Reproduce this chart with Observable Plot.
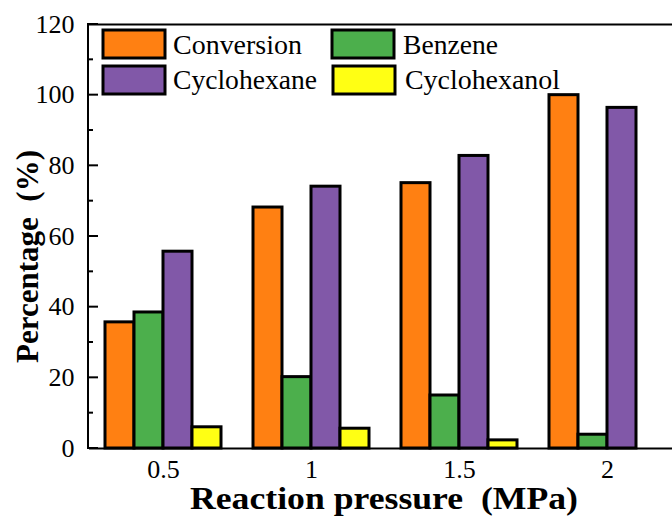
<!DOCTYPE html>
<html><head><meta charset="utf-8">
<script src="https://cdn.jsdelivr.net/npm/d3@7"></script>
<script src="https://cdn.jsdelivr.net/npm/@observablehq/plot@0.6"></script>
<style>
html,body{margin:0;padding:0;background:#fff;overflow:hidden;width:672px;height:518px;}
#chart{width:672px;height:518px;overflow:hidden;}
#chart svg{display:block;max-width:none !important;}
#chart svg text{font-family:'Liberation Serif','Times New Roman',serif;}
</style></head><body><div id="chart"></div>
<script>
// ---- data ----
const pressureLabels = ["0.5", "1", "1.5", "2"];
const seriesNames = ["Conversion", "Benzene", "Cyclohexane", "Cyclohexanol"];
const conversion   = [35.7, 68.2, 75.1, 100.0];
const benzene      = [38.5, 20.2, 15.0, 3.9];
const cyclohexane  = [55.7, 74.1, 82.8, 96.4];
const cyclohexanol = [6.0, 5.6, 2.3, 0];
const seriesColors = ["#FF8012", "#4CAF4C", "#8158A8", "#FFFF14"];
const yTicks = [0, 20, 40, 60, 80, 100, 120];
const yMinorTicks = [10, 30, 50, 70, 90, 110];
const xTitle = "Reaction pressure  (MPa)";
const yTitle = "Percentage  (%)";

const seriesValues = [conversion, benzene, cyclohexane, cyclohexanol];
const table = [];
pressureLabels.forEach((p, i) => {
  seriesNames.forEach((s, j) => table.push({pressure: p, series: s, value: seriesValues[j][i]}));
});

const font = "'Liberation Serif','Times New Roman',serif";
const marginLeft = 88;

const plot = Plot.plot({
  width: 682, height: 518,
  marginLeft, marginRight: 0, marginTop: 24, marginBottom: 70,
  style: {fontFamily: font, background: "#fff", color: "#000", overflow: "visible", maxWidth: "none"},
  fx: {domain: pressureLabels, padding: 0, label: null},
  x: {domain: seriesNames, paddingInner: 0, paddingOuter: 0.483, axis: null},
  y: {domain: [0, 120]},
  color: {domain: seriesNames, range: seriesColors},
  marks: [
    Plot.barY(table, {fx: "pressure", x: "series", y: "value", fill: "series",
      stroke: "#000", strokeWidth: 3, filter: d => d.value > 0}),
    Plot.ruleY([0, 120], {stroke: "#000", strokeWidth: 2}),
    Plot.axisY(yTicks, {anchor: "left", tickSize: 0, tickPadding: 15, fontSize: 26, fontFamily: font, label: null}),
    Plot.axisFx({anchor: "bottom", tickSize: 0, tickPadding: 11, fontSize: 26, fontFamily: font, label: null})
  ]
});
document.getElementById("chart").appendChild(plot);

// ---- left axis line and inward ticks (positions from Plot's y scale) ----
const svg = d3.select(plot);
const yScale = plot.scale("y");
const ax = svg.append("g").attr("stroke", "#000").attr("stroke-width", 2);
ax.append("line").attr("x1", marginLeft).attr("x2", marginLeft)
  .attr("y1", yScale.apply(0) + 1).attr("y2", yScale.apply(120) - 1);
yTicks.forEach(v => ax.append("line").attr("x1", marginLeft).attr("x2", marginLeft + 10)
  .attr("y1", yScale.apply(v)).attr("y2", yScale.apply(v)));
yMinorTicks.forEach(v => ax.append("line").attr("x1", marginLeft).attr("x2", marginLeft + 5)
  .attr("y1", yScale.apply(v)).attr("y2", yScale.apply(v)));

// ---- legend and titles ----
const legendItems = [
  {name: seriesNames[0], color: seriesColors[0], sx: 103, sy: 30, tx: 173, ty: 54, tw: 129},
  {name: seriesNames[1], color: seriesColors[1], sx: 332, sy: 30, tx: 403, ty: 54, tw: 95},
  {name: seriesNames[2], color: seriesColors[2], sx: 103, sy: 66, tx: 173, ty: 89, tw: 144},
  {name: seriesNames[3], color: seriesColors[3], sx: 333, sy: 66, tx: 405, ty: 89, tw: 155}
];
const lg = svg.append("g").attr("text-anchor", "start");
legendItems.forEach(d => {
  lg.append("rect").attr("x", d.sx).attr("y", d.sy).attr("width", 62).attr("height", 28)
    .attr("fill", d.color).attr("stroke", "#000").attr("stroke-width", 3);
  lg.append("text").attr("x", d.tx).attr("y", d.ty).attr("font-size", 28)
    .attr("font-family", font).attr("fill", "#000").attr("text-anchor", "start")
    .attr("textLength", d.tw).attr("lengthAdjust", "spacingAndGlyphs").text(d.name);
});
svg.append("text").attr("x", 190).attr("y", 509).attr("font-size", 31).attr("font-weight", "bold")
  .attr("font-family", font).attr("fill", "#000").attr("text-anchor", "start")
  .style("white-space", "pre")
  .attr("textLength", 388).attr("lengthAdjust", "spacingAndGlyphs").text(xTitle);
svg.append("text").attr("transform", "translate(38,363) rotate(-90)").attr("font-size", 31)
  .attr("font-weight", "bold").attr("font-family", font).attr("fill", "#000").attr("text-anchor", "start")
  .style("white-space", "pre")
  .attr("textLength", 213).attr("lengthAdjust", "spacingAndGlyphs").text(yTitle);
</script>
</body></html>
